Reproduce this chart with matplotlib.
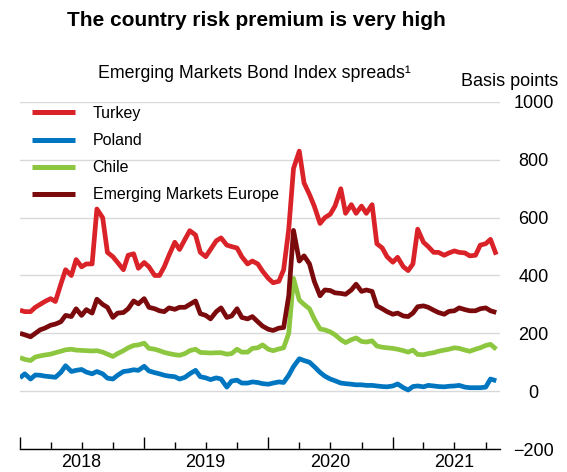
import pandas as pd
import matplotlib
matplotlib.use("Agg")
from matplotlib import pyplot as plt
import matplotlib.dates as mdates
from matplotlib.transforms import blended_transform_factory
from datetime import datetime

plt.rcParams['font.family'] = ['Liberation Sans', 'DejaVu Sans']

# semi-monthly observations, Jan 2018 - Nov 2021 (basis points)
dates = pd.date_range("2018-01-01", "2021-11-01", freq="SMS")

turkey = [280, 275, 275, 290, 300, 310, 320, 310, 370, 420, 400, 455,
          430, 440, 440, 630, 600, 480, 465, 445, 420, 470, 475, 425,
          445, 430, 400, 400, 430, 470, 515, 490, 525, 555, 540, 480,
          465, 490, 520, 530, 505, 500, 495, 465, 440, 450, 440, 415,
          390, 375, 380, 420, 560, 770, 830, 720, 680, 640, 580, 600,
          612, 640, 700, 615, 645, 615, 640, 615, 645, 510, 495, 465,
          446, 463, 430, 417, 440, 560, 515, 500, 480, 480, 470, 478,
          485, 480, 478, 468, 470, 505, 510, 525, 472]
poland = [46, 60, 42, 56, 55, 52, 50, 48, 65, 88, 68, 72,
          75, 66, 60, 68, 60, 45, 42, 55, 68, 70, 74, 72,
          86, 70, 64, 60, 55, 52, 50, 42, 48, 60, 72, 50,
          46, 40, 46, 42, 14, 35, 38, 28, 28, 32, 30, 26,
          24, 28, 32, 30, 55, 85, 112, 106, 100, 85, 65, 52,
          42, 36, 28, 26, 24, 22, 22, 20, 20, 18, 16, 15,
          18, 25, 12, 4, 16, 18, 15, 20, 18, 16, 15, 17,
          18, 20, 14, 12, 12, 12, 14, 42, 36]
chile = [116, 110, 106, 118, 122, 125, 128, 133, 138, 143, 145, 142,
         141, 140, 139, 140, 135, 128, 120, 130, 140, 150, 158, 160,
         166, 148, 145, 140, 134, 130, 126, 124, 130, 140, 145, 134,
         133, 132, 133, 133, 128, 130, 145, 135, 135, 148, 150, 160,
         145, 140, 146, 150, 200, 390, 315, 300, 285, 250, 215, 212,
         205, 195, 178, 168, 178, 184, 172, 170, 174, 156, 152, 150,
         148, 145, 140, 135, 142, 127, 126, 130, 133, 138, 142, 145,
         150, 148, 142, 138, 145, 150, 158, 162, 145]
em_europe = [200, 195, 188, 200, 212, 218, 228, 232, 240, 262, 258, 285,
             262, 282, 270, 318, 300, 290, 255, 270, 272, 285, 312, 302,
             320, 290, 285, 278, 275, 288, 283, 290, 290, 300, 312, 268,
             262, 250, 275, 288, 255, 260, 285, 255, 250, 258, 240, 225,
             214, 210, 218, 220, 330, 556, 450, 468, 440, 380, 330, 350,
             348, 340, 338, 335, 350, 370, 345, 350, 345, 295, 285, 275,
             266, 270, 260, 258, 270, 292, 295, 290, 280, 272, 266, 276,
             278, 288, 282, 278, 278, 285, 288, 278, 272]

series = [("Turkey", turkey, "#DA2229"),
          ("Poland", poland, "#0076C0"),
          ("Chile", chile, "#8DC63F"),
          ("Emerging Markets Europe", em_europe, "#7A0A0C")]
years = [2018, 2019, 2020, 2021]

fig = plt.figure(figsize=(5.67, 4.72), dpi=100)
ax = fig.add_axes([20 / 567, 1 - 449 / 472, 480 / 567, 347 / 472])

for name, vals, col in series:
    ax.plot(dates, vals, color=col, lw=3.4, label=name, solid_capstyle="butt")

ax.set_ylim(-200, 1000)
ax.set_yticks(range(-200, 1001, 200))
ax.set_xlim(datetime(2018, 1, 1), datetime(2021, 11, 12))
ax.grid(axis="y", color="#D9D9D9", lw=1)
ax.set_axisbelow(True)

for s in ["top", "left", "right"]:
    ax.spines[s].set_visible(False)
ax.spines["bottom"].set_linewidth(1)

ax.yaxis.tick_right()
ax.tick_params(axis="y", length=0, pad=24, labelsize=13)
for lab in ax.get_yticklabels():
    lab.set_horizontalalignment("center")

ax.xaxis.set_major_locator(mdates.YearLocator())
ax.xaxis.set_minor_locator(mdates.MonthLocator(bymonth=[4, 7, 10]))
ax.xaxis.set_major_formatter(plt.NullFormatter())
ax.tick_params(axis="x", which="major", direction="in", length=9, width=1)
ax.tick_params(axis="x", which="minor", direction="in", length=5, width=1)

trans = blended_transform_factory(ax.transData, ax.transAxes)
for y in years:
    ax.annotate(str(y), xy=(mdates.date2num(datetime(y, 7, 1)), 0), xycoords=trans,
                xytext=(0, -10), textcoords="offset points",
                ha="center", va="center", fontsize=13)

leg = ax.legend(loc="upper left", bbox_to_anchor=(32 / 567, 1 - 106 / 472),
                bbox_transform=fig.transFigure, frameon=False, fontsize=11.5,
                handlelength=2.7, handletextpad=1.1, labelspacing=0.76,
                borderpad=0, borderaxespad=0)
for h in leg.get_lines():
    h.set_linewidth(3.6)

fig.text(256 / 567, 1 - 20 / 472, "The country risk premium is very high",
         ha="center", va="center", fontsize=15, fontweight="bold")
fig.text(254 / 567, 1 - 74 / 472, "Emerging Markets Bond Index spreads\u00b9",
         ha="center", va="center", fontsize=12.75)
fig.text(510 / 567, 1 - 82 / 472, "Basis points", ha="center", va="center", fontsize=13)

fig.savefig("out.png", dpi=100)
